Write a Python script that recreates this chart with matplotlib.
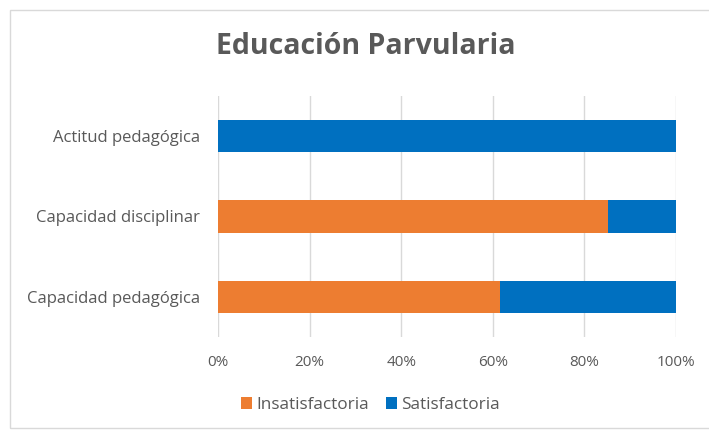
import matplotlib.pyplot as plt
from matplotlib.patches import Rectangle
from matplotlib.ticker import PercentFormatter

plt.rcParams['font.family'] = ['Open Sans', 'DejaVu Sans']

# categories from bottom to top, as in the chart
categories = ['Capacidad pedagógica', 'Capacidad disciplinar', 'Actitud pedagógica']
insatisfactoria = [61.5, 85.1, 0.0]
satisfactoria = [38.5, 14.9, 100.0]
ticks = [0, 20, 40, 60, 80, 100]

orange = '#ED7D31'
blue = '#0070C0'
gray = '#595959'

fig = plt.figure(figsize=(7.09, 4.30), dpi=100)
ax = fig.add_axes([0.3075, 0.2163, 0.646, 0.5605])

# chart border
fig.patches.append(Rectangle((10 / 709, 2 / 430), 1.1, 418 / 430, transform=fig.transFigure,
                             fill=False, edgecolor='#D9D9D9', linewidth=1))

y = range(len(categories))
ax.barh(y, insatisfactoria, height=0.4, color=orange, label='Insatisfactoria', zorder=3)
ax.barh(y, satisfactoria, left=insatisfactoria, height=0.4, color=blue,
        label='Satisfactoria', zorder=3)

ax.set_xlim(0, 100)
ax.set_ylim(-0.5, len(categories) - 0.5)
ax.set_xticks(ticks)
ax.xaxis.set_major_formatter(PercentFormatter(decimals=0))
ax.set_yticks(list(y))
ax.set_yticklabels(categories)
ax.grid(axis='x', color='#D9D9D9', linewidth=1, zorder=0)
for s in ax.spines.values():
    s.set_visible(False)
ax.tick_params(axis='both', length=0, labelcolor=gray)
ax.tick_params(axis='x', pad=13, labelsize=11)
ax.tick_params(axis='y', pad=13, labelsize=12)

fig.text(0.516, 1 - 46 / 430, 'Educación Parvularia', ha='center', va='center',
         fontsize=20.5, fontweight='bold', color=gray)

fig.legend(loc='center', bbox_to_anchor=(0.522, 1 - 405 / 430), ncol=2, frameon=False,
           fontsize=12.3, labelcolor=gray, handlelength=0.65, handleheight=0.65,
           handletextpad=0.25, columnspacing=1.0)

fig.savefig('out.png', dpi=100)
